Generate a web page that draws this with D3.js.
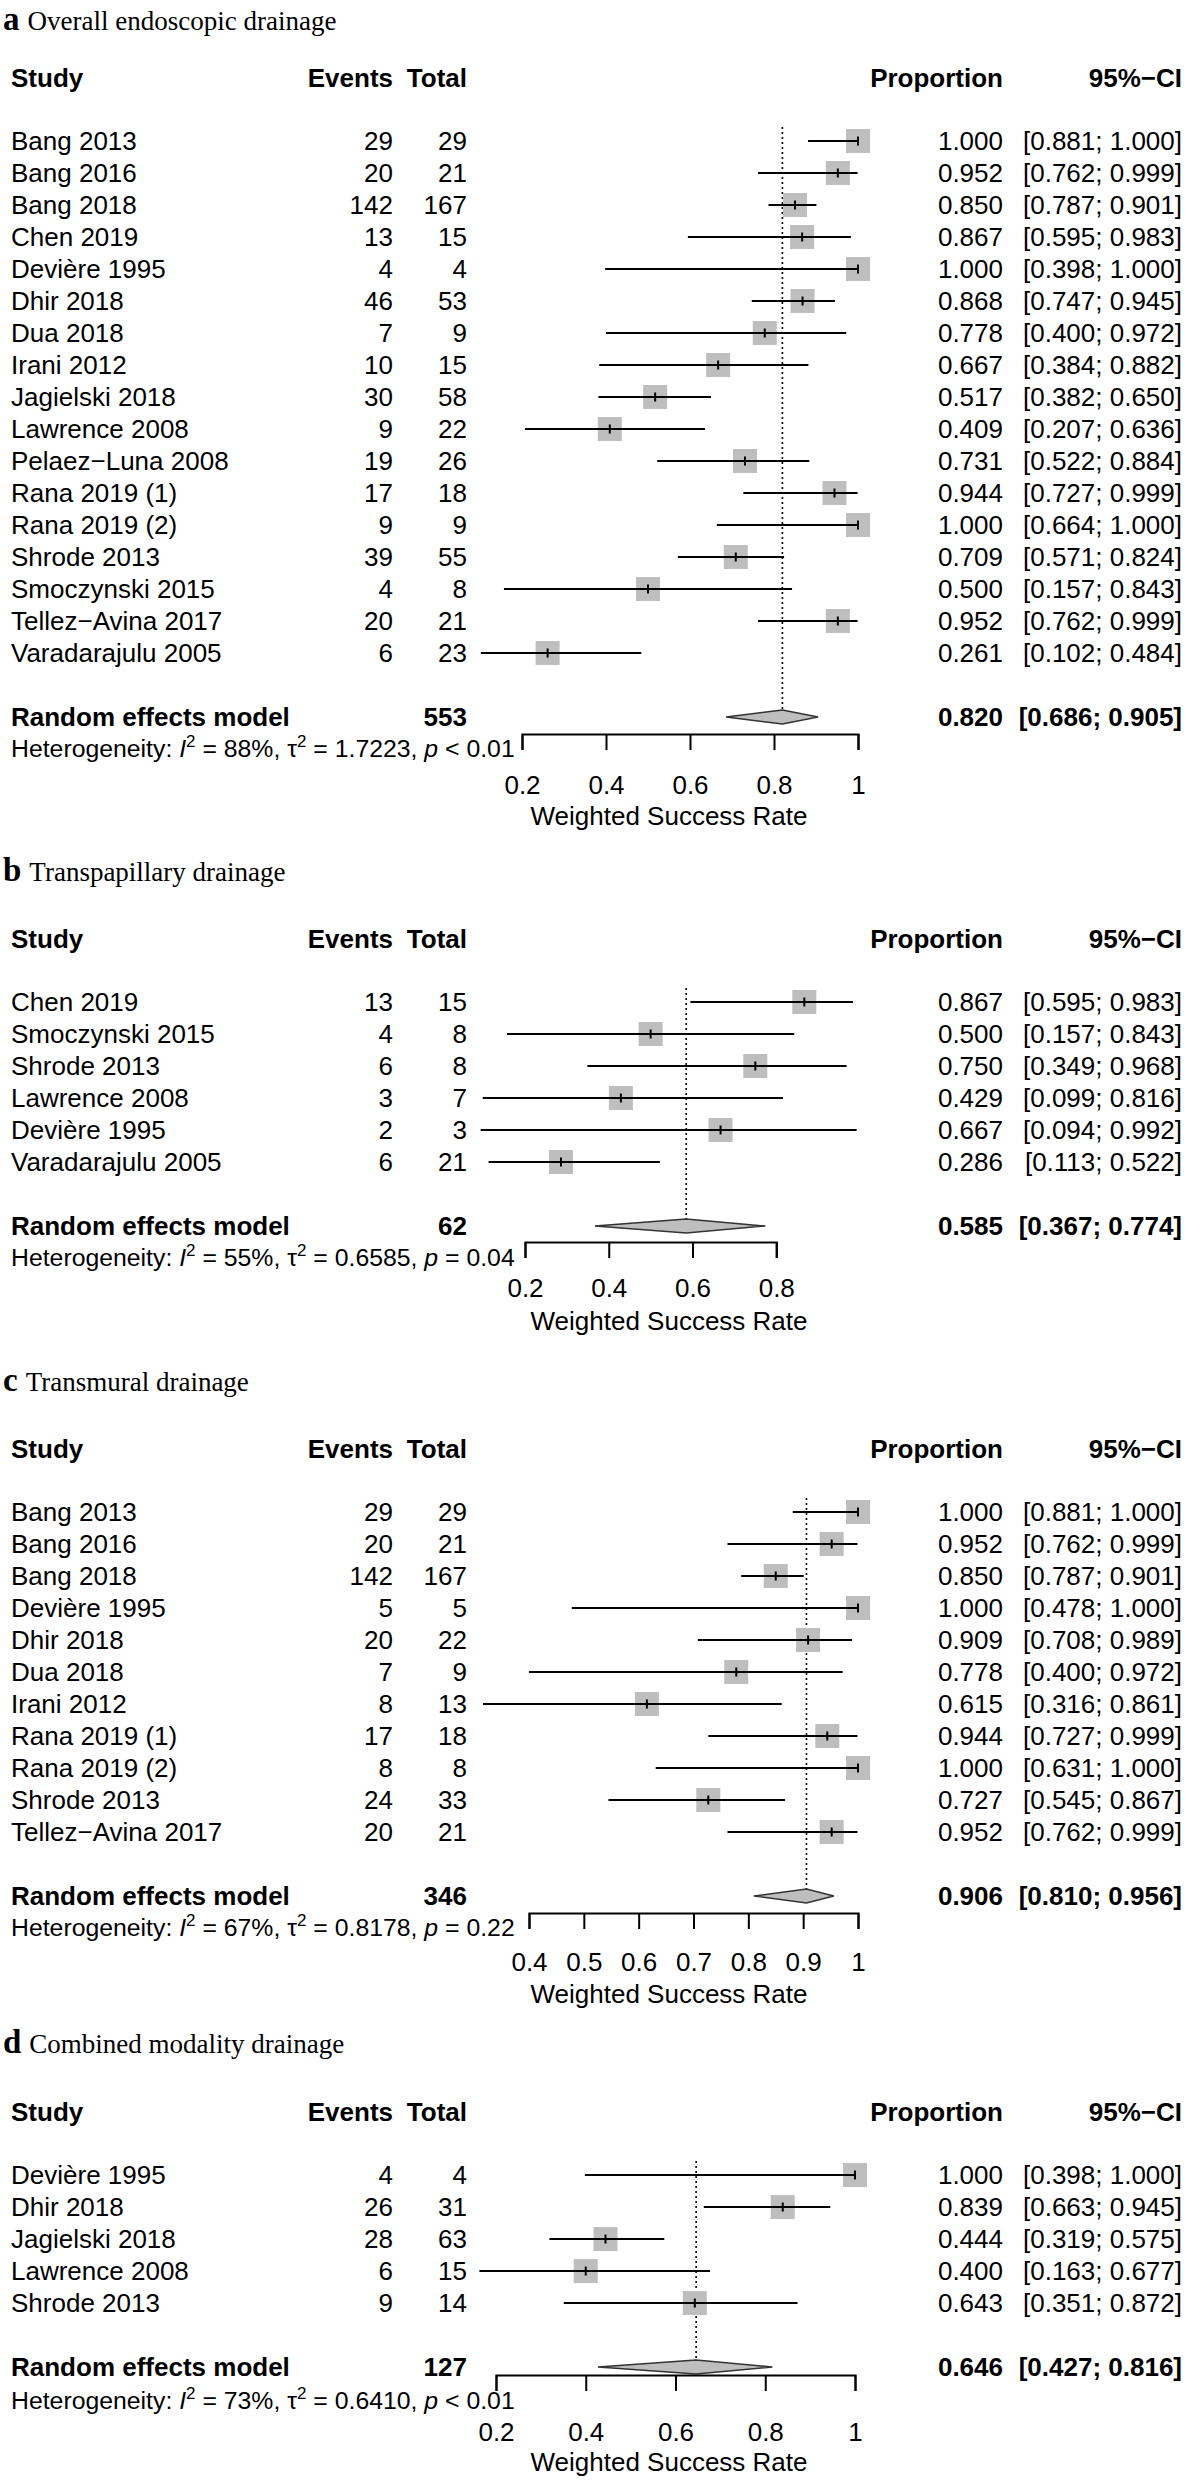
<!DOCTYPE html>
<html><head><meta charset="utf-8">
<script src="https://cdn.jsdelivr.net/npm/d3@7"></script>
<style>body{margin:0;background:#fff}</style>
</head><body><svg id="c" width="1188" height="2480"></svg>
<script>
// ---------- Panel a: Overall endoscopic drainage ----------
const studiesA = ["Bang 2013","Bang 2016","Bang 2018","Chen 2019","Devière 1995","Dhir 2018","Dua 2018","Irani 2012","Jagielski 2018","Lawrence 2008","Pelaez\u2212Luna 2008","Rana 2019 (1)","Rana 2019 (2)","Shrode 2013","Smoczynski 2015","Tellez\u2212Avina 2017","Varadarajulu 2005"];
const eventsA = [29,20,142,13,4,46,7,10,30,9,19,17,9,39,4,20,6];
const totalsA = [29,21,167,15,4,53,9,15,58,22,26,18,9,55,8,21,23];
const propA   = [1.000,0.952,0.850,0.867,1.000,0.868,0.778,0.667,0.517,0.409,0.731,0.944,1.000,0.709,0.500,0.952,0.261];
const lowerA  = [0.881,0.762,0.787,0.595,0.398,0.747,0.400,0.384,0.382,0.207,0.522,0.727,0.664,0.571,0.157,0.762,0.102];
const upperA  = [1.000,0.999,0.901,0.983,1.000,0.945,0.972,0.882,0.650,0.636,0.884,0.999,1.000,0.824,0.843,0.999,0.484];
const ticksA  = [0.2,0.4,0.6,0.8,1];
const tickLabelsA = ["0.2","0.4","0.6","0.8","1"];

// ---------- Panel b: Transpapillary drainage ----------
const studiesB = ["Chen 2019","Smoczynski 2015","Shrode 2013","Lawrence 2008","Devière 1995","Varadarajulu 2005"];
const eventsB = [13,4,6,3,2,6];
const totalsB = [15,8,8,7,3,21];
const propB   = [0.867,0.500,0.750,0.429,0.667,0.286];
const lowerB  = [0.595,0.157,0.349,0.099,0.094,0.113];
const upperB  = [0.983,0.843,0.968,0.816,0.992,0.522];
const ticksB  = [0.2,0.4,0.6,0.8];
const tickLabelsB = ["0.2","0.4","0.6","0.8"];

// ---------- Panel c: Transmural drainage ----------
const studiesC = ["Bang 2013","Bang 2016","Bang 2018","Devière 1995","Dhir 2018","Dua 2018","Irani 2012","Rana 2019 (1)","Rana 2019 (2)","Shrode 2013","Tellez\u2212Avina 2017"];
const eventsC = [29,20,142,5,20,7,8,17,8,24,20];
const totalsC = [29,21,167,5,22,9,13,18,8,33,21];
const propC   = [1.000,0.952,0.850,1.000,0.909,0.778,0.615,0.944,1.000,0.727,0.952];
const lowerC  = [0.881,0.762,0.787,0.478,0.708,0.400,0.316,0.727,0.631,0.545,0.762];
const upperC  = [1.000,0.999,0.901,1.000,0.989,0.972,0.861,0.999,1.000,0.867,0.999];
const ticksC  = [0.4,0.5,0.6,0.7,0.8,0.9,1];
const tickLabelsC = ["0.4","0.5","0.6","0.7","0.8","0.9","1"];

// ---------- Panel d: Combined modality drainage ----------
const studiesD = ["Devière 1995","Dhir 2018","Jagielski 2018","Lawrence 2008","Shrode 2013"];
const eventsD = [4,26,28,6,9];
const totalsD = [4,31,63,15,14];
const propD   = [1.000,0.839,0.444,0.400,0.643];
const lowerD  = [0.398,0.663,0.319,0.163,0.351];
const upperD  = [1.000,0.945,0.575,0.677,0.872];
const ticksD  = [0.2,0.4,0.6,0.8,1];
const tickLabelsD = ["0.2","0.4","0.6","0.8","1"];

// ---------- Pooled (random effects) results, panels a-d ----------
const panelLetters = ["a","b","c","d"];
const panelTitles  = ["Overall endoscopic drainage","Transpapillary drainage","Transmural drainage","Combined modality drainage"];
const pooledTotal = [553,62,346,127];
const pooledEst   = [0.820,0.585,0.906,0.646];
const pooledLower = [0.686,0.367,0.810,0.427];
const pooledUpper = [0.905,0.774,0.956,0.816];
const hetI2   = ["88%","55%","67%","73%"];
const hetTau2 = ["1.7223","0.6585","0.8178","0.6410"];
const hetP    = ["< 0.01","= 0.04","= 0.22","< 0.01"];

// ---------- layout (positions, not data) ----------
const layouts = [
  {titleBase:30,  header:78,   row0:141,  x0:[0.2,522], x1:[1,858], axisY:734,  tickLab:785,  xlab:816,  het:748},
  {titleBase:881, header:939,  row0:1002, x0:[0.2,525], x1:[1,860], axisY:1242, tickLab:1288, xlab:1321, het:1257},
  {titleBase:1391,header:1449, row0:1512, x0:[0.4,529], x1:[1,858], axisY:1913, tickLab:1962, xlab:1994, het:1927},
  {titleBase:2053,header:2112, row0:2175, x0:[0.2,496], x1:[1,855], axisY:2375, tickLab:2432, xlab:2462, het:2400}
];
const studySets = [
  {studies:studiesA, events:eventsA, totals:totalsA, est:propA, lo:lowerA, hi:upperA, ticks:ticksA, tl:tickLabelsA},
  {studies:studiesB, events:eventsB, totals:totalsB, est:propB, lo:lowerB, hi:upperB, ticks:ticksB, tl:tickLabelsB},
  {studies:studiesC, events:eventsC, totals:totalsC, est:propC, lo:lowerC, hi:upperC, ticks:ticksC, tl:tickLabelsC},
  {studies:studiesD, events:eventsD, totals:totalsD, est:propD, lo:lowerD, hi:upperD, ticks:ticksD, tl:tickLabelsD}
];

const STEP = 32, FS = 26, HFS = 24.8, SQ = 24;
const colStudy = 11, colEvents = 393, colTotal = 467, colProp = 1003, colCI = 1182, xlabCenter = 669;
const SANS = "'Liberation Sans', Arial, Helvetica, sans-serif";
const SERIF = "'Liberation Serif', 'Times New Roman', serif";
const f3 = d3.format(".3f");
const svg = d3.select("#c");

function txt(g, x, y, s, anchor, bold, size) {
  return g.append("text").attr("x", x).attr("y", y + (size||FS)*0.36)
    .attr("text-anchor", anchor || "start")
    .attr("font-family", SANS).attr("font-size", size || FS)
    .attr("font-weight", bold ? "bold" : "normal").attr("fill", "#000").text(s);
}

studySets.forEach((S, p) => {
  const L = layouts[p];
  const g = svg.append("g");
  const x = d3.scaleLinear().domain([L.x0[0], L.x1[0]]).range([L.x0[1], L.x1[1]]);
  const yRow = i => L.row0 + i * STEP;
  const n = S.studies.length;
  const yPool = L.row0 + (n + 1) * STEP;

  // title
  const t = g.append("text").attr("x", 3).attr("y", L.titleBase).attr("font-family", SERIF).attr("fill", "#000");
  t.append("tspan").attr("font-weight", "bold").attr("font-size", 33).text(panelLetters[p]);
  t.append("tspan").attr("font-size", 27).attr("dx", 8).text(panelTitles[p]);

  // header
  txt(g, colStudy, L.header, "Study", "start", true);
  txt(g, colEvents, L.header, "Events", "end", true);
  txt(g, colTotal, L.header, "Total", "end", true);
  txt(g, colProp, L.header, "Proportion", "end", true);
  txt(g, colCI, L.header, "95%\u2212CI", "end", true);

  // reference (pooled) dotted line
  g.append("line").attr("x1", x(pooledEst[p])).attr("x2", x(pooledEst[p]))
    .attr("y1", L.row0 - 14).attr("y2", yPool - 7)
    .attr("stroke", "#000").attr("stroke-width", 1.6).attr("stroke-dasharray", "2,3");

  // study rows
  S.studies.forEach((name, i) => {
    const y = yRow(i);
    txt(g, colStudy, y, name, "start");
    txt(g, colEvents, y, S.events[i], "end");
    txt(g, colTotal, y, S.totals[i], "end");
    txt(g, colProp, y, f3(S.est[i]), "end");
    txt(g, colCI, y, "[" + f3(S.lo[i]) + "; " + f3(S.hi[i]) + "]", "end");
    g.append("rect").attr("x", x(S.est[i]) - SQ/2).attr("y", y - SQ/2)
      .attr("width", SQ).attr("height", SQ).attr("fill", "#bebebe");
    g.append("line").attr("x1", x(S.lo[i])).attr("x2", x(S.hi[i])).attr("y1", y).attr("y2", y)
      .attr("stroke", "#000").attr("stroke-width", 2);
    g.append("line").attr("x1", x(S.est[i])).attr("x2", x(S.est[i])).attr("y1", y - 4.5).attr("y2", y + 4.5)
      .attr("stroke", "#000").attr("stroke-width", 2);
  });

  // pooled row
  txt(g, colStudy, yPool, "Random effects model", "start", true);
  txt(g, colTotal, yPool, pooledTotal[p], "end", true);
  txt(g, colProp, yPool, f3(pooledEst[p]), "end", true);
  txt(g, colCI, yPool, "[" + f3(pooledLower[p]) + "; " + f3(pooledUpper[p]) + "]", "end", true);
  const dh = 7;
  g.append("path")
    .attr("d", `M${x(pooledLower[p])},${yPool} L${x(pooledEst[p])},${yPool-dh} L${x(pooledUpper[p])},${yPool} L${x(pooledEst[p])},${yPool+dh} Z`)
    .attr("fill", "#bebebe").attr("stroke", "#333").attr("stroke-width", 1.5);

  // heterogeneity
  const h = g.append("text").attr("x", colStudy).attr("y", L.het + HFS*0.36)
    .attr("font-family", SANS).attr("font-size", HFS).attr("fill", "#000");
  h.append("tspan").text("Heterogeneity: ");
  h.append("tspan").attr("font-style", "italic").text("I");
  h.append("tspan").attr("font-size", 17).attr("dy", -10).text("2");
  h.append("tspan").attr("dy", 10).text(" = " + hetI2[p] + ", \u03c4");
  h.append("tspan").attr("font-size", 17).attr("dy", -10).text("2");
  h.append("tspan").attr("dy", 10).text(" = " + hetTau2[p] + ", ");
  h.append("tspan").attr("font-style", "italic").text("p");
  h.append("tspan").text(" " + hetP[p]);

  // axis
  const ax = d3.scaleLinear().domain(d3.extent(S.ticks)).range(d3.extent(S.ticks).map(x));
  const axis = d3.axisBottom(ax).tickValues(S.ticks).tickSizeInner(16).tickSizeOuter(16)
    .tickFormat((d, i) => S.tl[i]).tickPadding(0);
  const ag = g.append("g").attr("transform", `translate(0,${L.axisY})`).call(axis);
  ag.select(".domain").attr("stroke", "#000").attr("stroke-width", 2);
  ag.selectAll(".tick line").attr("stroke", "#000").attr("stroke-width", 2);
  ag.selectAll(".tick text").attr("font-family", SANS).attr("font-size", FS).attr("fill", "#000")
    .attr("y", L.tickLab - L.axisY + FS*0.36).attr("dy", null);

  txt(g, xlabCenter, L.xlab, "Weighted Success Rate", "middle");
});
</script></body></html>
